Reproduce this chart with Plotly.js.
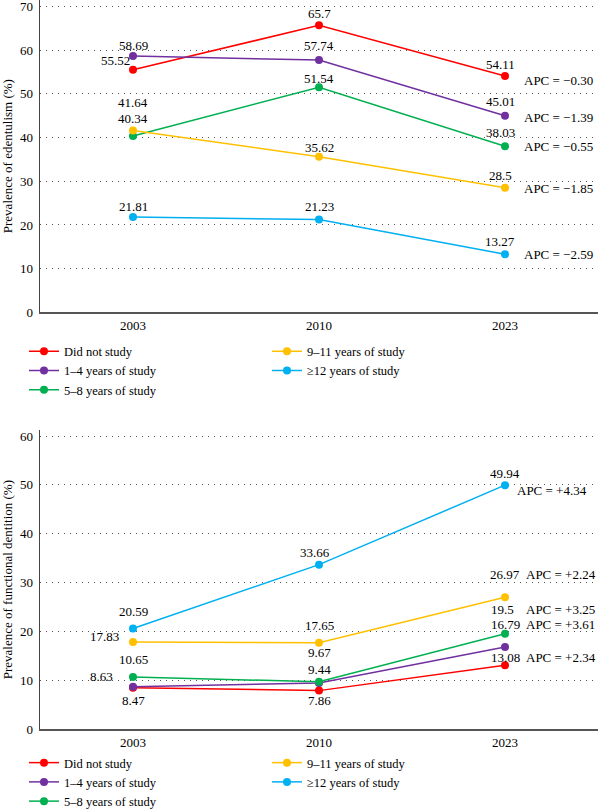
<!DOCTYPE html>
<html>
<head>
<meta charset="utf-8">
<script src="https://cdn.plot.ly/plotly-3.0.1.min.js"></script>
<style>
  html, body { margin: 0; padding: 0; background: #ffffff; }
  #chart { width: 600px; height: 811px; }
</style>
</head>
<body>
<div id="chart"></div>
<script>
// Survey years and education groups
const years = ['2003', '2010', '2023'];
const groups = ['Did not study', '1–4 years of study', '5–8 years of study', '9–11 years of study', '≥12 years of study'];

// Prevalence of edentulism (%)
const edentNoStudy = [55.52, 65.7, 54.11];
const edent1to4 = [58.69, 57.74, 45.01];
const edent5to8 = [40.34, 51.54, 38.03];
const edent9to11 = [41.64, 35.62, 28.5];
const edent12plus = [21.81, 21.23, 13.27];
const edentApc = ['−0.30', '−1.39', '−0.55', '−1.85', '−2.59'];

// Prevalence of functional dentition (%)
const functNoStudy = [8.47, 7.86, 13.08];
const funct1to4 = [8.63, 9.44, 16.79];
const funct5to8 = [10.65, 9.67, 19.5];
const funct9to11 = [17.83, 17.65, 26.97];
const funct12plus = [20.59, 33.66, 49.94];
const functApc = ['+2.34', '+3.61', '+3.25', '+2.24', '+4.34'];

// Styling
const colors = ['#ff0000', '#7030a0', '#00b050', '#ffc000', '#00b0f0'];
const legendOrder = [1, 3, 5, 2, 4];
const FONT = '"Liberation Serif", "Times New Roman", serif';

// Label offsets in pixels [dx, dy-up] for each group and year
const edentLabelShift = [
  [[-18, 9], [0, 12], [-5, 11.5]],
  [[0, 10.5], [0, 15], [-5, 14.5]],
  [[0, 18], [0, 9], [-5, 14]],
  [[0, 28], [0, 9.5], [-5, 12.5]],
  [[0, 11], [0, 13], [-5, 13]]
];
const edentApcShift = [[17, -5], [17, -1.5], [17, -0.5], [17, -1], [17, -0.5]];

const functLabelShift = [
  [[0, -13], [0, -10], [0, 8]],
  [[-32, 10.5], [0, 13.5], [0, 23]],
  [[0, 18], [0, 29.5], [-3, 24.5]],
  [[-29, 5.5], [0, 17], [0, 23]],
  [[0, 17], [-4, 12], [0, 12]]
];
const functApcShift = [[19, 8], [19, 23], [19, 24.5], [19, 23], [10, -5]];

const edentSeries = [edentNoStudy, edent1to4, edent5to8, edent9to11, edent12plus];
const functSeries = [functNoStudy, funct1to4, funct5to8, funct9to11, funct12plus];

const traces = [];
const annotations = [];

function addPanel(series, apc, labelShift, apcShift, xa, ya, legendId) {
  series.forEach(function (vals, g) {
    traces.push({
      type: 'scatter',
      mode: 'lines+markers',
      x: years,
      y: vals,
      xaxis: xa,
      yaxis: ya,
      name: groups[g],
      legend: legendId,
      legendrank: legendOrder[g],
      line: { color: colors[g], width: 1.5 },
      marker: { color: colors[g], size: 8 },
      hoverinfo: 'skip'
    });
    // value labels, placed on the category axis by index
    vals.forEach(function (v, i) {
      annotations.push({
        xref: xa, yref: ya, x: i, y: v,
        text: String(v), showarrow: false,
        xanchor: 'center', yanchor: 'middle',
        xshift: labelShift[g][i][0], yshift: labelShift[g][i][1],
        font: { family: FONT, size: 13, color: '#000' }
      });
    });
    const last = vals.length - 1;
    annotations.push({
      xref: xa, yref: ya, x: last, y: vals[last],
      text: 'APC = ' + apc[g], showarrow: false,
      xanchor: 'left', yanchor: 'middle',
      xshift: apcShift[g][0], yshift: apcShift[g][1],
      font: { family: FONT, size: 13, color: '#000' }
    });
  });
}

addPanel(edentSeries, edentApc, edentLabelShift, edentApcShift, 'x', 'y', 'legend');
addPanel(functSeries, functApc, functLabelShift, functApcShift, 'x2', 'y2', 'legend2');

const xAxisBase = {
  type: 'category',
  range: [-0.5, 2.5],
  domain: [40 / 600, 598 / 600],
  showgrid: false,
  zeroline: false,
  showline: true,
  linecolor: '#555',
  linewidth: 2,
  ticks: '',
  ticklabelstandoff: 0,
  tickfont: { family: FONT, size: 13, color: '#000' },
  fixedrange: true
};

const yAxisBase = {
  dtick: 10,
  showgrid: true,
  gridcolor: '#555',
  gridwidth: 1,
  griddash: '1px,5px',
  zeroline: false,
  showline: true,
  linecolor: '#444',
  linewidth: 1.5,
  ticks: '',
  ticklabelstandoff: 3,
  ticklabeloverflow: 'allow',
  tickfont: { family: FONT, size: 13, color: '#000' },
  fixedrange: true
};

const legendBase = {
  orientation: 'h',
  xanchor: 'left',
  yanchor: 'top',
  x: 24 / 600,
  entrywidth: 198,
  entrywidthmode: 'pixels',
  itemwidth: 30,
  traceorder: 'normal',
  font: { family: FONT, size: 12.5, color: '#000' },
  bgcolor: 'rgba(0,0,0,0)'
};

const layout = {
  width: 600,
  height: 811,
  margin: { l: 0, r: 0, t: 0, b: 0, autoexpand: false },
  paper_bgcolor: '#ffffff',
  plot_bgcolor: '#ffffff',
  font: { family: FONT, size: 13, color: '#000' },
  showlegend: true,
  hovermode: false,
  xaxis: Object.assign({}, xAxisBase, { anchor: 'y' }),
  yaxis: Object.assign({}, yAxisBase, {
    anchor: 'x',
    range: [0, 71.5],
    domain: [1 - 312.3 / 811, 1],
    title: { text: 'Prevalence of edentulism (%)', standoff: 7, font: { family: FONT, size: 13, color: '#000' } }
  }),
  xaxis2: Object.assign({}, xAxisBase, { anchor: 'y2' }),
  yaxis2: Object.assign({}, yAxisBase, {
    anchor: 'x2',
    range: [0, 61.2],
    domain: [1 - 729 / 811, 1 - 430.2 / 811],
    title: { text: 'Prevalence of functional dentition (%)', standoff: 7, font: { family: FONT, size: 13, color: '#000' } }
  }),
  legend: Object.assign({}, legendBase, { y: 1 - 336.5 / 811 }),
  legend2: Object.assign({}, legendBase, { y: 1 - 748 / 811 }),
  annotations: annotations
};

Plotly.newPlot('chart', traces, layout, { staticPlot: true, displayModeBar: false });
</script>
</body>
</html>
